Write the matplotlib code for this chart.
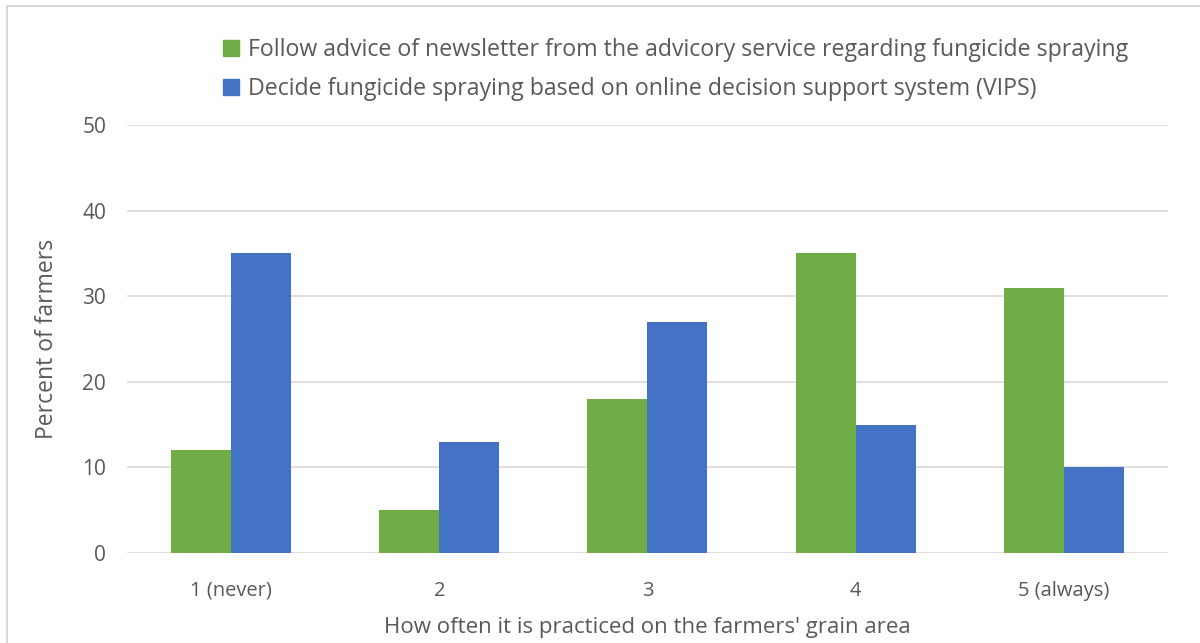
import matplotlib
matplotlib.use("Agg")
import matplotlib.pyplot as plt
import numpy as np
from matplotlib.patches import Patch
from matplotlib.lines import Line2D

categories = ["1 (never)", "2", "3", "4", "5 (always)"]
newsletter = [12, 5, 18, 35, 31]
vips = [35, 13, 27, 15, 10]
series_names = [
    "Follow advice of newsletter from the advicory service regarding fungicide spraying",
    "Decide fungicide spraying based on online decision support system (VIPS)",
]
yticks = [0, 10, 20, 30, 40, 50]

GREEN = "#70AD47"
BLUE = "#4472C4"
TXT = "#595959"
fam = ["Open Sans", "DejaVu Sans"]

fig = plt.figure(figsize=(12, 6.43), dpi=100)
ax = fig.add_axes([0.1058, 0.14, 0.8675, 0.6656])

x = np.arange(len(categories))
w = 0.288
ax.bar(x - w / 2, newsletter, w, color=GREEN, label=series_names[0], zorder=3)
ax.bar(x + w / 2, vips, w, color=BLUE, label=series_names[1], zorder=3)

ax.set_xlim(-0.5, len(categories) - 0.5)
ax.set_ylim(0, 50)
ax.set_yticks(yticks)
ax.set_yticklabels([str(t) for t in yticks], family=fam, fontsize=15, color=TXT)
ax.set_xticks(x)
ax.set_xticklabels(categories, family=fam, fontsize=14.5, color=TXT)
ax.tick_params(axis="y", length=0, pad=15)
ax.tick_params(axis="x", length=0, pad=20)
ax.grid(axis="y", color="#D9D9D9", linewidth=1.2, zorder=0)
for s in ax.spines.values():
    s.set_visible(False)

ax.set_ylabel("Percent of farmers", family=fam, fontsize=16.5, color=TXT, labelpad=17)
ax.set_xlabel("How often it is practiced on the farmers' grain area", family=fam,
              fontsize=16, color=TXT, labelpad=12)

handles = [Patch(color=GREEN), Patch(color=BLUE)]
leg = fig.legend(handles, series_names, loc="upper left", bbox_to_anchor=(0.178, 0.955),
                 frameon=False, prop={"family": fam, "size": 16.7},
                 handlelength=0.7, handleheight=0.7, handletextpad=0.4,
                 labelspacing=0.65, borderaxespad=0)
for t in leg.get_texts():
    t.set_color(TXT)

# chart border
fig.add_artist(Line2D([7 / 1200, 7 / 1200], [0, 1 - 6 / 643], transform=fig.transFigure,
                      color="#D9D9D9", linewidth=1.5))
fig.add_artist(Line2D([7 / 1200, 1], [1 - 6 / 643, 1 - 6 / 643], transform=fig.transFigure,
                      color="#D9D9D9", linewidth=1.5))

fig.savefig("out.png", dpi=100, facecolor="white")
